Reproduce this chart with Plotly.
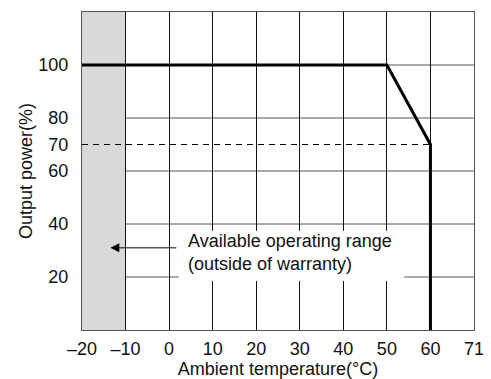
import plotly.graph_objects as go

# Data
curve_temp = [-20, 50, 60, 60]
curve_power = [100, 100, 70, 0]
ref_temp = [-20, 60]
ref_power = [70, 70]
x_tickvals = [-20, -10, 0, 10, 20, 30, 40, 50, 60, 70]
x_ticktext = ["\u201320", "\u201310", "0", "10", "20", "30", "40", "50", "60", "71"]
y_tickvals = [20, 40, 60, 70, 80, 100]
y_ticktext = ["20", "40", "60", "70", "80", "100"]
y_grid = [20, 40, 60, 80, 100]
shade_range = [-20, -10]
arrow_tail = [2, 31]
arrow_head = [-13.5, 31]
note_text = "Available operating range<br>(outside of warranty)"
note_x = 3.9
note_y = 29.1
note_box_x = [2.2, 54]
note_box_y = [18.5, 37.5]

FONT = "Liberation Sans, Arial, sans-serif"
FS = 18

fig = go.Figure()

fig.add_trace(go.Scatter(x=ref_temp, y=ref_power, mode="lines",
                         line=dict(color="black", width=1, dash="6px,5px"),
                         hoverinfo="skip", showlegend=False))
fig.add_trace(go.Scatter(x=curve_temp, y=curve_power, mode="lines",
                         line=dict(color="black", width=3),
                         hoverinfo="skip", showlegend=False))

shapes = [
    dict(type="rect", xref="x", yref="y", x0=shade_range[0], x1=shade_range[1],
         y0=0, y1=120, fillcolor="#d9d9d9", line=dict(width=0), layer="below"),
    # white backing of the note: hides vertical grid lines only
    dict(type="rect", xref="x", yref="y", x0=note_box_x[0], x1=note_box_x[1],
         y0=note_box_y[0], y1=note_box_y[1], fillcolor="white", line=dict(width=0),
         layer="between"),
]
for gy in y_grid:
    shapes.append(dict(type="line", xref="paper", yref="y", x0=0, x1=1, y0=gy, y1=gy,
                       line=dict(color="#555555", width=1), layer="between"))
fig.update_layout(shapes=shapes)

fig.add_annotation(x=arrow_head[0], y=arrow_head[1], ax=arrow_tail[0], ay=arrow_tail[1],
                   xref="x", yref="y", axref="x", ayref="y", text="",
                   showarrow=True, arrowhead=2, arrowsize=1.8, arrowwidth=1, arrowcolor="black")
fig.add_annotation(x=note_x, y=note_y, xref="x", yref="y", text=note_text,
                   showarrow=False, xanchor="left", yanchor="middle", align="left",
                   font=dict(family=FONT, size=FS, color="#111111"))

# page body adds an 8px offset; figure is sized to fill the rest of the window
fig.update_layout(
    width=483, height=371,
    margin=dict(l=74, r=17, t=4, b=49),
    paper_bgcolor="white", plot_bgcolor="white",
    font=dict(family=FONT, size=FS, color="#111111"),
    xaxis=dict(range=[-20, 70], tickvals=x_tickvals, ticktext=x_ticktext,
               showgrid=True, gridcolor="#111111", gridwidth=1,
               showline=True, linecolor="#555555", linewidth=1, mirror=True,
               zeroline=False, ticks="", ticklabelstandoff=2, automargin=False,
               title=dict(text="Ambient temperature(\u00b0C)", standoff=8,
                          font=dict(family=FONT, size=FS))),
    yaxis=dict(range=[0, 120], tickvals=y_tickvals, ticktext=y_ticktext,
               showgrid=False,
               showline=True, linecolor="#555555", linewidth=1, mirror=True,
               zeroline=False, ticks="", ticklabelstandoff=9, automargin=False,
               title=dict(text="Output power(%)", standoff=1,
                          font=dict(family=FONT, size=FS))),
)

fig.write_html("out.html")
